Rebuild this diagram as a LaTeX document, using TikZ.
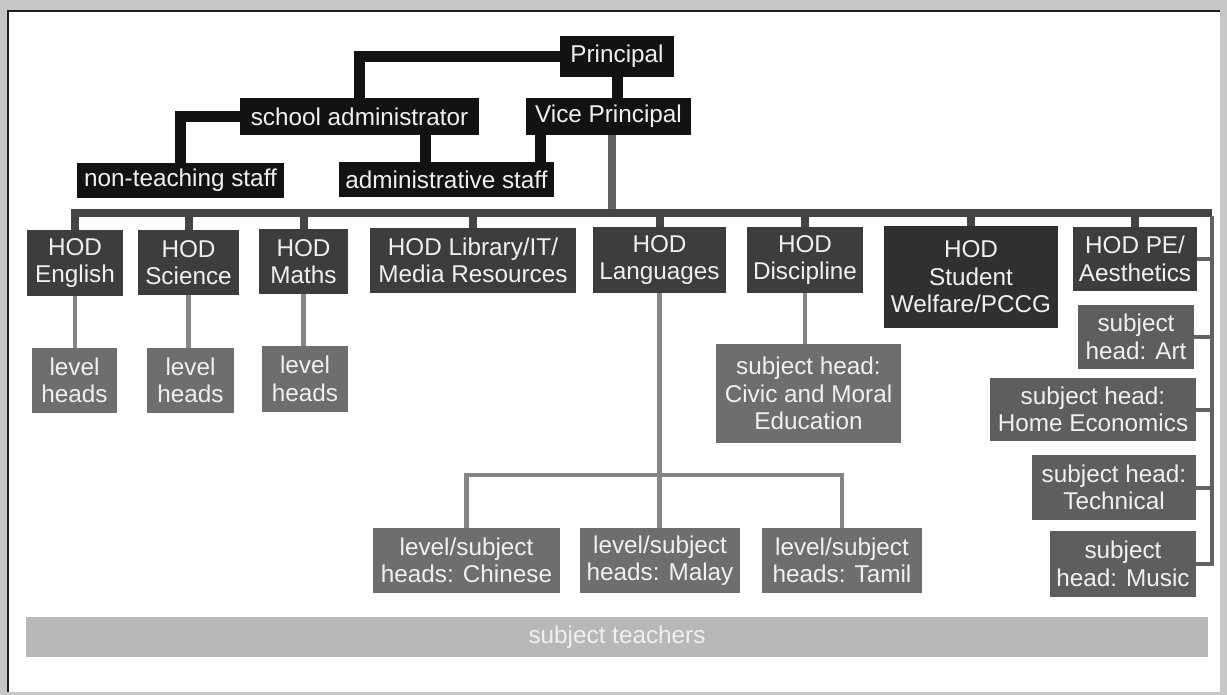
\documentclass[tikz,border=0pt]{standalone}
\usepackage{fontspec}
\setmainfont{Liberation Sans}
\begin{document}
\begin{tikzpicture}[x=1pt,y=-1pt,
  box/.style={inner sep=0pt, align=center, text=white!94!black,
    font=\fontsize{24.3}{27.5}\selectfont},
  topbox/.style={box, fill=black!93},
  hodbox/.style={box, fill=black!76},
  welbox/.style={box, fill=black!81},
  lvlbox/.style={box, fill=black!57},
  subbox/.style={box, fill=black!63},
  barbox/.style={box, fill=black!28},
  blk/.style={line width=11pt, draw=black!93},
  busline/.style={line width=8pt, draw=black!73},
  vpline/.style={line width=8pt, draw=black!62},
  sub/.style={line width=4.5pt, draw=black!48},
  rline/.style={line width=4pt, draw=black!62},
]
\useasboundingbox (0,0) rectangle (1227,695);
% page frame
\fill[black!22] (0,0) rectangle (1227,695);
\fill[white] (8,11) rectangle (1220,692);
\draw[black!88, line width=2.5pt] (8,692) -- (8,11) -- (1220,11);

% top management
\node[topbox, minimum width=114, minimum height=41] (p)   at (617,56.5)   {Principal};
\node[topbox, minimum width=239, minimum height=37] (sa)  at (359.5,116.5) {school administrator};
\node[topbox, minimum width=165, minimum height=37] (vp)  at (608.5,116.5) {Vice Principal};
\node[topbox, minimum width=207, minimum height=35] (nts) at (180.5,180.5) {non-teaching staff};
\node[topbox, minimum width=215, minimum height=35] (as)  at (446.5,179.5) {administrative staff};

% heads of department
\node[hodbox, minimum width=96,  minimum height=66] (eng) at (75,263)    {HOD\\English};
\node[hodbox, minimum width=101, minimum height=65] (sci) at (188.5,262.5) {HOD\\Science};
\node[hodbox, minimum width=89,  minimum height=65] (mat) at (303.5,261.5) {HOD\\Maths};
\node[hodbox, minimum width=206, minimum height=65] (lib) at (473,260.5)  {HOD Library/IT/\\Media Resources};
\node[hodbox, minimum width=133, minimum height=66] (lan) at (659.5,260)  {HOD\\Languages};
\node[hodbox, minimum width=116, minimum height=66] (dis) at (805,260)    {HOD\\Discipline};
\node[welbox, minimum width=174, minimum height=102] (wel) at (971,277)   {HOD\\Student\\Welfare/PCCG};
\node[hodbox, minimum width=124, minimum height=64] (pe)  at (1135,259)   {HOD PE/\\Aesthetics};

% level and subject heads
\node[lvlbox, minimum width=85,  minimum height=65] (lh1) at (74.5,380.5) {level\\heads};
\node[lvlbox, minimum width=87,  minimum height=65] (lh2) at (190.5,380.5) {level\\heads};
\node[lvlbox, minimum width=86,  minimum height=66] (lh3) at (305,379)    {level\\heads};
\node[lvlbox, minimum width=185, minimum height=99] (civ) at (808.5,393.5) {subject head:\\Civic and Moral\\Education};
\node[lvlbox, minimum width=187, minimum height=65] (chi) at (466.5,560.5) {level/subject\\heads: Chinese};
\node[lvlbox, minimum width=160, minimum height=65] (mal) at (660,560.5)  {level/subject\\heads: Malay};
\node[lvlbox, minimum width=160, minimum height=65] (tam) at (842,560.5)  {level/subject\\heads: Tamil};
\node[subbox, minimum width=116, minimum height=64] (art) at (1136,337)   {subject\\head: Art};
\node[subbox, minimum width=206, minimum height=63] (hec) at (1093,409.5) {subject head:\\Home Economics};
\node[subbox, minimum width=164, minimum height=65] (tec) at (1114,487.5) {subject head:\\Technical};
\node[subbox, minimum width=146, minimum height=66] (mus) at (1123,564)   {subject\\head: Music};

% subject teachers band
\node[barbox, minimum width=1182, minimum height=40] (st) at (617,637) {subject teachers};

% connectors: top management
\draw[blk] (p.west) -| (sa.north);
\draw[blk] (p.south) -- (p.south |- vp.north);
\draw[blk] (sa.west) -| (nts.north);
\coordinate (k1) at ([xshift=65.5]sa.south);
\draw[blk] (k1) -- (k1 |- as.north);
\coordinate (k2) at ([xshift=-68]vp.south);
\draw[blk] (k2) -- (k2 |- as.north);

% connectors: department bus
\coordinate (bj) at (612,213);
\coordinate (br) at (1212,213);
\draw[vpline] ([xshift=3.5]vp.south) -- (bj);
\draw[busline] ([xshift=-4]eng.north |- bj) -- (br);
\foreach \h in {eng,sci,mat,lib,lan,dis,wel,pe}
  \draw[busline] (\h.north |- bj) -- (\h.north);

% right-hand column
\draw[rline] ([yshift=-3]br) -- (br |- mus.east) -- (mus.east);
\foreach \h in {pe,art,hec,tec}
  \draw[rline] (\h.east) -- (\h.east -| br);

% level heads
\draw[sub] (eng.south) -- (eng.south |- lh1.north);
\draw[sub] (sci.south) -- (sci.south |- lh2.north);
\draw[sub] (mat.south) -- (mat.south |- lh3.north);
\draw[sub] (dis.south) -- (dis.south |- civ.north);

% languages sub-tree
\coordinate (lj) at (lan.south |- 0,475);
\draw[sub] (lan.south) -- (lan.south |- mal.north);
\draw[sub] (chi.north) -- (chi.north |- lj) -- (tam.north |- lj) -- (tam.north);
\end{tikzpicture}
\end{document}
